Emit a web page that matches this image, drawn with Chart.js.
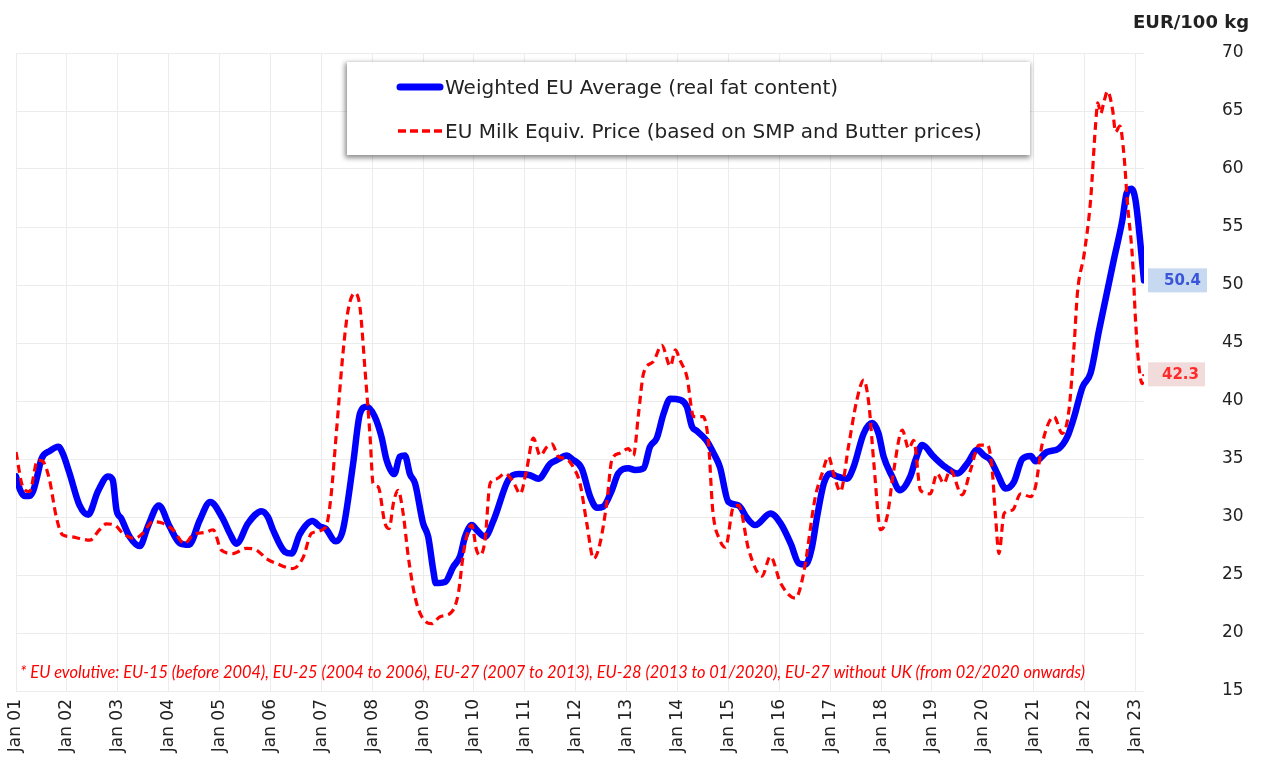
<!DOCTYPE html>
<html>
<head>
<meta charset="utf-8">
<script src="https://cdn.jsdelivr.net/npm/chart.js@4.4.1/dist/chart.umd.min.js"></script>
<style>
  html, body { margin: 0; padding: 0; background: #fff; }
  #wrap { position: relative; width: 1264px; height: 769px; }
  #chart { position: absolute; left: 0; top: 0; }
  .unit { position: absolute; left: 1133px; top: 11px; font: bold 18px "DejaVu Sans"; color: #222; white-space: nowrap; }
  .legend { position: absolute; left: 347px; top: 62px; width: 683px; height: 93px; background: #fff;
            box-shadow: -1px 2px 5px 1px rgba(0,0,0,0.45); font: 20px "DejaVu Sans"; color: #222; }
  .legend .row { position: absolute; left: 49px; height: 26px; display: flex; align-items: center; white-space: nowrap; }
  .legend svg { margin-right: 1px; }
  .note { position: absolute; left: 20px; top: 662px; font: italic 16.4px Lato; color: #ff0000; white-space: nowrap; }
</style>
</head>
<body>
<div id="wrap">
  <canvas id="chart" width="1264" height="769"></canvas>
  <div class="unit">EUR/100 kg</div>
  <div class="legend">
    <div class="row" style="top:12px">
      <svg width="48" height="10"><line x1="4" y1="5" x2="44" y2="5" stroke="#0000ff" stroke-width="7" stroke-linecap="round"/></svg>
      Weighted EU Average (real fat content)
    </div>
    <div class="row" style="top:56px">
      <svg width="48" height="10"><line x1="2" y1="5" x2="46" y2="5" stroke="#ff0000" stroke-width="3.5" stroke-dasharray="8 4"/></svg>
      EU Milk Equiv. Price (based on SMP and Butter prices)
    </div>
  </div>
  <div class="note">* EU evolutive: EU-15 (before 2004), EU-25 (2004 to 2006), EU-27 (2007 to 2013), EU-28 (2013 to 01/2020), EU-27 without UK (from 02/2020 onwards)</div>
</div>
<script>
// month index: 0 = Jan 2001
const yearLabels = ['Jan 01','Jan 02','Jan 03','Jan 04','Jan 05','Jan 06','Jan 07','Jan 08','Jan 09','Jan 10','Jan 11','Jan 12',
                    'Jan 13','Jan 14','Jan 15','Jan 16','Jan 17','Jan 18','Jan 19','Jan 20','Jan 21','Jan 22','Jan 23'];

// Weighted EU Average (real fat content)
const avgMonths = [0,1,2,3,4,5,6,8,10,11,12.6,15,17,19.3,21.7,22.8,23.7,24.8,26.8,29.2,31.1,33.7,36.2,38.6,40.8,43.3,45.8,48.7,50.4,52,
  54.7,57.9,59.4,60.6,63.4,65,66.9,69.9,71.6,73,75.4,77.1,79.5,81.1,82.7,84.6,86.2,87.4,89.2,90.5,91.7,92.9,94.1,96,97.2,98.4,99,101.2,103.1,104.7,
  105.9,107.5,108.6,110.6,112.6,116.1,118.5,121.2,123.2,126,127.5,129.9,131.1,133.4,135.4,137,138.5,140.5,142,144.4,146,148,149.5,151.1,152.7,154.3,156.6,158.2,159.4,160.6,
  162.8,164.5,166,168,170.4,172.4,174.3,177.9,180.3,182.7,184.6,186.2,187.7,188.9,190.5,192,193.6,196,197.5,199.9,201.9,203.4,204.6,206.6,208.4,210.9,
  212.1,213.7,216.4,219.2,222,224.3,226.7,228.3,229.8,231.4,233.4,235.3,237.3,239.3,240.4,243.1,245.9,247.9,249.5,251.5,253.4,255.4,258.9,260.9,261.9,263,264,266];
const avgValues = [33.5,32.3,31.8,31.8,32.2,33.5,35.0,35.7,36.05,35.5,33.8,31.0,30.2,32.2,33.5,33.2,30.6,29.9,28.3,27.5,29.2,31.0,29.2,27.75,27.6,29.7,31.3,29.9,28.6,27.7,
  29.45,30.5,30.0,28.9,27.0,26.85,28.5,29.65,29.2,29.0,27.9,28.9,34.6,38.9,39.5,38.65,36.9,34.9,33.7,35.2,35.3,33.7,32.9,29.45,28.3,25.4,24.3,24.4,25.7,26.6,
  28.3,29.3,28.9,28.3,29.7,33.2,33.7,33.6,33.3,34.6,34.9,35.3,35.0,34.2,31.75,30.8,30.9,32.3,33.75,34.2,34.05,34.2,36.05,36.8,38.9,40.2,40.1,39.5,37.8,37.4,
  36.6,35.5,34.3,31.3,31.0,29.9,29.3,30.3,29.45,27.7,26.0,25.9,27.4,30.0,32.9,33.75,33.5,33.3,34.3,37.2,38.1,37.2,35.2,33.5,32.3,33.5,
  34.9,36.2,35.2,34.3,33.75,34.6,35.8,35.3,34.9,33.75,32.45,33.0,35.0,35.25,34.8,35.6,35.9,36.9,38.6,41.2,42.4,46.1,52.2,55.6,57.9,58.3,57.3,50.4];

// EU Milk Equiv. Price (based on SMP and Butter prices)
const equivMonths = [0,1.6,3.2,5.1,6.3,7.9,9.5,11,13,15,17.4,19.7,21.3,23.3,25.2,28,29.9,32.3,34.7,37,39.8,41.7,44.9,46.5,48.4,51.2,54.3,56.7,59.1,61.4,
  65.3,67.7,69.7,73,74.2,75.6,77.1,78.3,79.9,81.1,82.3,83.5,84.2,85.4,87,88,89,90.1,91.3,92.5,94.1,95.7,98,100,102.7,104.3,105.5,106.7,107.5,108.6,
  109.4,110.6,111.8,113.4,115.3,117.3,118.9,120.4,122,123.6,125.2,126.4,127.9,129.9,131.4,133,134.6,136.2,137.7,139.3,140.5,142.4,144.4,145.6,146.8,148,150.3,152.3,154.3,155.5,
  156.6,158.2,159.8,162,163.3,164.3,166,167.3,169.2,170.4,172.8,175.9,177.9,180.3,183.8,185.7,188.5,190.1,191.6,192.8,194.4,196.3,198.3,199.9,201.1,202.3,203.9,205.4,207,209,
  210.5,211.7,213.3,215.6,217.2,218.8,220.3,223.1,225.1,227.1,229.1,230.2,231,231.8,233,235,236.9,239.3,240.4,242,244.8,246.7,248.3,249.5,250.3,251.9,253.4,254.6,255.1,255.8,
  256.5,257.4,258.6,259.3,260.3,261.3,262.1,263.3,264,264.8,265.6,266];
const equivValues = [35.6,32.6,32.2,34.9,34.8,33.2,30.0,28.45,28.3,28.15,28.0,28.9,29.4,29.3,28.6,28.15,28.6,29.6,29.45,28.9,27.7,28.45,28.7,28.9,27.15,26.85,27.3,27.15,26.4,26.0,
  25.55,26.5,28.6,29.1,31.5,37.5,44.1,47.8,49.3,48.1,42.7,36.9,32.9,32.6,29.45,29.0,31.2,32.3,30.3,26.6,23.1,21.4,20.8,21.4,21.8,23.4,26.85,28.9,29.3,27.15,
  26.7,28.0,32.9,33.3,33.75,33.0,32.0,34.05,36.8,35.3,36.05,36.3,35.2,35.0,34.3,32.9,29.45,26.4,27.7,31.2,34.9,35.5,35.9,35.3,38.9,42.4,43.4,44.8,43.0,44.4,
  43.5,42.1,38.65,38.65,36.4,30.6,28.0,27.4,30.9,31.0,27.15,24.9,26.6,24.3,23.0,25.1,31.75,33.75,35.2,33.75,32.2,36.05,40.1,41.8,39.8,34.6,28.9,30.0,34.05,37.5,
  35.9,36.6,32.3,32.0,33.75,32.9,34.05,31.9,34.05,36.2,36.2,34.05,30.0,26.85,30.3,30.6,32.0,31.75,32.6,36.3,38.65,37.2,39.2,44.7,49.3,52.7,57.3,63.9,65.7,64.8,
  65.7,66.7,65.1,63.2,63.7,61.1,57.05,52.2,47.0,43.0,41.5,42.3];

const toPoints = (xs, ys) => xs.map((x, i) => ({ x: x, y: ys[i] }));

// end value boxes on the right of the plot
const endLabels = {
  id: 'endLabels',
  afterDatasetsDraw(chart) {
    const { ctx, chartArea, scales } = chart;
    const items = [
      { v: avgValues[avgValues.length - 1], text: '#3a55d8', bg: '#c6d9f1', w: 59 },
      { v: equivValues[equivValues.length - 1], text: '#ff2a2a', bg: '#f2dcdb', w: 57 }
    ];
    ctx.save();
    ctx.font = 'bold 15px "DejaVu Sans"';
    ctx.textAlign = 'right';
    ctx.textBaseline = 'middle';
    items.forEach(it => {
      const y = scales.y.getPixelForValue(it.v);
      const x = chartArea.right + 4;
      ctx.fillStyle = it.bg;
      ctx.fillRect(x, y - 12, it.w, 24);
      ctx.fillStyle = it.text;
      ctx.fillText(it.v.toFixed(1), x + it.w - 6, y + 1);
    });
    ctx.restore();
  }
};

new Chart(document.getElementById('chart'), {
  type: 'line',
  data: {
    datasets: [
      {
        label: 'EU Milk Equiv. Price (based on SMP and Butter prices)',
        data: toPoints(equivMonths, equivValues),
        borderColor: '#ff0000',
        borderWidth: 3.2,
        borderDash: [8, 5],
        cubicInterpolationMode: 'monotone',
        pointRadius: 0,
        order: 0
      },
      {
        label: 'Weighted EU Average (real fat content)',
        data: toPoints(avgMonths, avgValues),
        borderColor: '#0000ff',
        borderWidth: 6.5,
        borderCapStyle: 'round',
        borderJoinStyle: 'round',
        cubicInterpolationMode: 'monotone',
        pointRadius: 0,
        order: 1
      }
    ]
  },
  options: {
    responsive: false,
    animation: false,
    layout: { padding: { left: 16, top: 53, right: 0, bottom: 0 } },
    plugins: { legend: { display: false }, tooltip: { enabled: false } },
    scales: {
      x: {
        type: 'linear',
        min: 0,
        max: 266,
        afterBuildTicks: s => { s.ticks = yearLabels.map((l, i) => ({ value: i * 12 })); },
        afterFit: s => { s.height = 78; },
        grid: { color: '#ececec', drawTicks: false },
        border: { display: false },
        ticks: {
          autoSkip: false,
          minRotation: 90,
          maxRotation: 90,
          padding: 8,
          color: '#222',
          font: { family: 'DejaVu Sans', size: 17 },
          callback: (v, i) => yearLabels[i]
        }
      },
      y: {
        position: 'right',
        min: 15,
        max: 70,
        // the big tick padding would otherwise also pad the top and bottom of the plot
        afterFit: s => { s.width = 120; s.paddingTop = 0; s.paddingBottom = 0; },
        grid: { color: '#ececec', drawTicks: false },
        border: { display: false },
        ticks: {
          stepSize: 5,
          padding: 78,
          color: '#222',
          font: { family: 'DejaVu Sans', size: 17 }
        }
      }
    }
  },
  plugins: [endLabels]
});
</script>
</body>
</html>
